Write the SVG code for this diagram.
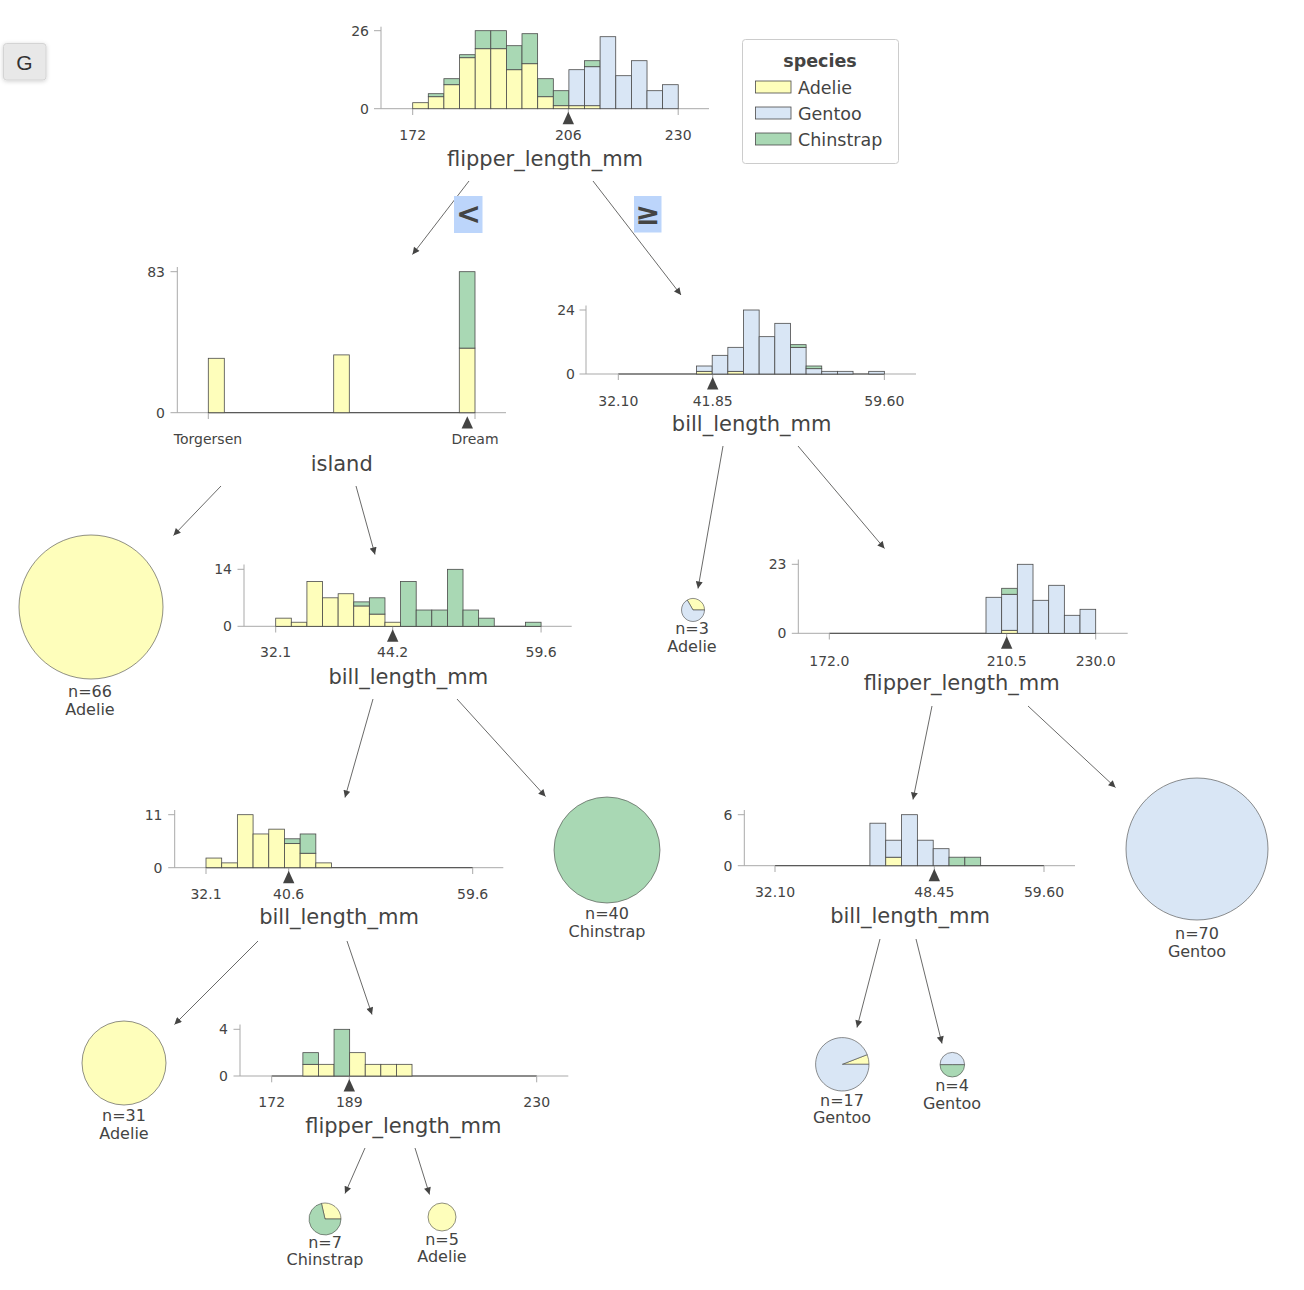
<svg xmlns="http://www.w3.org/2000/svg" width="1304" height="1290" viewBox="0 0 1304 1290">
<defs>
<marker id="ah" viewBox="0 0 10 10" refX="10" refY="5" markerWidth="9" markerHeight="7" markerUnits="userSpaceOnUse" orient="auto"><path d="M0,0 L10,5 L0,10 Z" fill="#444443"/></marker>
<filter id="sh" x="-30%" y="-30%" width="160%" height="160%"><feDropShadow dx="0" dy="1" stdDeviation="2" flood-color="#000" flood-opacity="0.18"/></filter>
</defs>
<style>
.ax{stroke:#a9a9a9;stroke-width:1;fill:none}
.base{stroke:#444443;stroke-width:1;fill:none}
.A{fill:#fefebb;stroke:#4a4a4a;stroke-width:0.8}
.G{fill:#d9e6f5;stroke:#4a4a4a;stroke-width:0.8}
.C{fill:#a9d8b4;stroke:#4a4a4a;stroke-width:0.8}
.pA{fill:#fefebb;stroke:#444443;stroke-width:0.6}
.pG{fill:#d9e6f5;stroke:#444443;stroke-width:0.6}
.pC{fill:#a9d8b4;stroke:#444443;stroke-width:0.6}
.tri{fill:#444443}
text{font-family:"DejaVu Sans","Liberation Sans",sans-serif;fill:#444443}
.tx{font-size:14px;text-anchor:middle}
.ty{font-size:14px;text-anchor:end}
.lab{font-size:21px;text-anchor:middle}
.leaf{font-size:16px;text-anchor:middle}
.lg{font-size:17.5px}
.edge{stroke:#444443;stroke-width:0.8;fill:none}
.hl{fill:#bcd5fb}
</style>
<rect width="1304" height="1290" fill="#ffffff"/>

<g id="gbutton">
<rect x="3.5" y="43.5" width="42.5" height="36.5" rx="3" fill="#e8e8e8" stroke="#d4d4d4" filter="url(#sh)"/>
<text x="24.5" y="69.5" style="font-family:'Liberation Sans',Arial,sans-serif;font-size:21px;fill:#333;text-anchor:middle">G</text>
</g>

<g id="legend">
<rect x="742.5" y="39.5" width="156" height="124" rx="3" fill="#fff" stroke="#cccccc"/>
<text x="820" y="67" class="lg" style="font-weight:bold;text-anchor:middle">species</text>
<rect x="755.5" y="81" width="35.5" height="12" class="A"/>
<text x="798" y="93.5" class="lg">Adelie</text>
<rect x="755.5" y="107" width="35.5" height="12" class="G"/>
<text x="798" y="119.5" class="lg">Gentoo</text>
<rect x="755.5" y="133" width="35.5" height="12" class="C"/>
<text x="798" y="145.5" class="lg">Chinstrap</text>
</g>

<!-- root: flipper_length_mm -->
<g id="node0">
<line class="ax" x1="381" y1="26.7" x2="381" y2="108.7"/>
<line class="ax" x1="374" y1="30.7" x2="381" y2="30.7"/>
<line class="ax" x1="374" y1="108.7" x2="709" y2="108.7"/>
<line class="ax" x1="412.7" y1="108.7" x2="412.7" y2="115"/>
<line class="ax" x1="568.3" y1="108.7" x2="568.3" y2="115"/>
<line class="ax" x1="678.2" y1="108.7" x2="678.2" y2="115"/>
<text class="ty" x="369" y="35.7">26</text>
<text class="ty" x="369" y="113.7">0</text>
<rect class="A" x="412.7" y="102.7" width="15.62" height="6"/>
<rect class="A" x="428.3" y="96.7" width="15.62" height="12"/>
<rect class="C" x="428.3" y="93.7" width="15.62" height="3"/>
<rect class="A" x="443.9" y="84.7" width="15.62" height="24"/>
<rect class="C" x="443.9" y="78.7" width="15.62" height="6"/>
<rect class="A" x="459.6" y="57.7" width="15.62" height="51"/>
<rect class="C" x="459.6" y="54.7" width="15.62" height="3"/>
<rect class="A" x="475.2" y="48.7" width="15.62" height="60"/>
<rect class="C" x="475.2" y="30.7" width="15.62" height="18"/>
<rect class="A" x="490.8" y="48.7" width="15.62" height="60"/>
<rect class="C" x="490.8" y="30.7" width="15.62" height="18"/>
<rect class="A" x="506.4" y="69.7" width="15.62" height="39"/>
<rect class="C" x="506.4" y="45.7" width="15.62" height="24"/>
<rect class="A" x="522" y="63.7" width="15.62" height="45"/>
<rect class="C" x="522" y="33.7" width="15.62" height="30"/>
<rect class="A" x="537.7" y="96.7" width="15.62" height="12"/>
<rect class="C" x="537.7" y="78.7" width="15.62" height="18"/>
<rect class="A" x="553.3" y="105.7" width="15.62" height="3"/>
<rect class="C" x="553.3" y="90.7" width="15.62" height="15"/>
<rect class="A" x="568.9" y="105.7" width="15.62" height="3"/>
<rect class="G" x="568.9" y="69.7" width="15.62" height="36"/>
<rect class="A" x="584.5" y="105.7" width="15.62" height="3"/>
<rect class="G" x="584.5" y="66.7" width="15.62" height="39"/>
<rect class="C" x="584.5" y="60.7" width="15.62" height="6"/>
<rect class="G" x="600.1" y="36.7" width="15.62" height="72"/>
<rect class="G" x="615.8" y="75.7" width="15.62" height="33"/>
<rect class="G" x="631.4" y="60.7" width="15.62" height="48"/>
<rect class="G" x="647" y="90.7" width="15.62" height="18"/>
<rect class="G" x="662.6" y="84.7" width="15.62" height="24"/>
<path class="tri" d="M568.3,111.7 L574,124.3 L562.6,124.3 Z"/>
<text class="tx" x="412.7" y="140">172</text>
<text class="tx" x="568.3" y="140">206</text>
<text class="tx" x="678.2" y="140">230</text>
<text class="lab" x="545" y="166">flipper_length_mm</text>
</g>

<!-- island -->
<g id="node1">
<line class="ax" x1="177.3" y1="267" x2="177.3" y2="412.7"/>
<line class="ax" x1="170.5" y1="271.7" x2="177.3" y2="271.7"/>
<line class="ax" x1="170.5" y1="412.7" x2="506" y2="412.7"/>
<line class="base" x1="208.3" y1="412.7" x2="475" y2="412.7"/>
<line class="ax" x1="208.3" y1="412.7" x2="208.3" y2="419"/>
<line class="ax" x1="475" y1="412.7" x2="475" y2="419"/>
<text class="ty" x="165" y="276.7">83</text>
<text class="ty" x="165" y="417.7">0</text>
<rect class="A" x="208.3" y="358.3" width="16" height="54.4"/>
<rect class="A" x="333.7" y="354.9" width="15.6" height="57.8"/>
<rect class="A" x="459.3" y="348.1" width="15.7" height="64.6"/>
<rect class="C" x="459.3" y="271.7" width="15.7" height="76.4"/>
<path class="tri" d="M467.3,416.2 L473,428.6 L461.6,428.6 Z"/>
<text class="tx" x="208" y="443.5">Torgersen</text>
<text class="tx" x="475" y="443.5">Dream</text>
<text class="lab" x="341.7" y="471">island</text>
</g>

<!-- right: bill_length_mm -->
<g id="node2">
<line class="ax" x1="586" y1="305.5" x2="586" y2="374"/>
<line class="ax" x1="579.5" y1="310" x2="586" y2="310"/>
<line class="ax" x1="579.5" y1="374" x2="916" y2="374"/>
<line class="base" x1="618.3" y1="374" x2="884.35" y2="374"/>
<line class="ax" x1="618.3" y1="374" x2="618.3" y2="380"/>
<line class="ax" x1="712.7" y1="374" x2="712.7" y2="380"/>
<line class="ax" x1="884.35" y1="374" x2="884.35" y2="380"/>
<text class="ty" x="575" y="315">24</text>
<text class="ty" x="575" y="379">0</text>
<rect class="A" x="696.55" y="371.33" width="15.65" height="2.67"/>
<rect class="G" x="696.55" y="366" width="15.65" height="5.33"/>
<rect class="G" x="712.2" y="355.33" width="15.65" height="18.67"/>
<rect class="A" x="727.85" y="371.33" width="15.65" height="2.67"/>
<rect class="G" x="727.85" y="347.33" width="15.65" height="24"/>
<rect class="G" x="743.5" y="310" width="15.65" height="64"/>
<rect class="G" x="759.15" y="336.67" width="15.65" height="37.33"/>
<rect class="G" x="774.8" y="323.33" width="15.65" height="50.67"/>
<rect class="G" x="790.45" y="347.33" width="15.65" height="26.67"/>
<rect class="C" x="790.45" y="344.67" width="15.65" height="2.67"/>
<rect class="G" x="806.1" y="368.67" width="15.65" height="5.33"/>
<rect class="C" x="806.1" y="366" width="15.65" height="2.67"/>
<rect class="G" x="821.75" y="371.33" width="15.65" height="2.67"/>
<rect class="G" x="837.4" y="371.33" width="15.65" height="2.67"/>
<rect class="G" x="868.7" y="371.33" width="15.65" height="2.67"/>
<path class="tri" d="M712.7,377 L718.4,389.5 L707,389.5 Z"/>
<text class="tx" x="618.3" y="406">32.10</text>
<text class="tx" x="712.7" y="406">41.85</text>
<text class="tx" x="884.35" y="406">59.60</text>
<text class="lab" x="751.7" y="431">bill_length_mm</text>
</g>

<!-- middle: bill_length_mm -->
<g id="node3">
<line class="ax" x1="244" y1="564.5" x2="244" y2="626.3"/>
<line class="ax" x1="237.5" y1="569.3" x2="244" y2="569.3"/>
<line class="ax" x1="237.5" y1="626.3" x2="571.7" y2="626.3"/>
<line class="base" x1="275.7" y1="626.3" x2="541.07" y2="626.3"/>
<line class="ax" x1="275.7" y1="626.3" x2="275.7" y2="632.5"/>
<line class="ax" x1="392.7" y1="626.3" x2="392.7" y2="632.5"/>
<line class="ax" x1="541.07" y1="626.3" x2="541.07" y2="632.5"/>
<text class="ty" x="232" y="574.3">14</text>
<text class="ty" x="232" y="631.3">0</text>
<rect class="A" x="275.7" y="618.16" width="15.61" height="8.14"/>
<rect class="A" x="291.31" y="622.23" width="15.61" height="4.07"/>
<rect class="A" x="306.92" y="581.53" width="15.61" height="44.77"/>
<rect class="A" x="322.53" y="597.81" width="15.61" height="28.49"/>
<rect class="A" x="338.14" y="593.74" width="15.61" height="32.56"/>
<rect class="A" x="353.75" y="605.95" width="15.61" height="20.35"/>
<rect class="C" x="353.75" y="601.88" width="15.61" height="4.07"/>
<rect class="A" x="369.36" y="614.09" width="15.61" height="12.21"/>
<rect class="C" x="369.36" y="597.81" width="15.61" height="16.28"/>
<rect class="A" x="384.97" y="622.23" width="15.61" height="4.07"/>
<rect class="C" x="400.58" y="581.53" width="15.61" height="44.77"/>
<rect class="C" x="416.19" y="610.02" width="15.61" height="16.28"/>
<rect class="C" x="431.8" y="610.02" width="15.61" height="16.28"/>
<rect class="C" x="447.41" y="569.32" width="15.61" height="56.98"/>
<rect class="C" x="463.02" y="610.02" width="15.61" height="16.28"/>
<rect class="C" x="478.63" y="618.16" width="15.61" height="8.14"/>
<rect class="C" x="525.46" y="622.23" width="15.61" height="4.07"/>
<path class="tri" d="M392.7,629.3 L398.4,641.8 L387,641.8 Z"/>
<text class="tx" x="275.7" y="657">32.1</text>
<text class="tx" x="392.7" y="657">44.2</text>
<text class="tx" x="541.07" y="657">59.6</text>
<text class="lab" x="408.3" y="684">bill_length_mm</text>
</g>

<!-- right flipper_length_mm -->
<g id="node4">
<line class="ax" x1="798.3" y1="559.5" x2="798.3" y2="633.3"/>
<line class="ax" x1="791.8" y1="564.3" x2="798.3" y2="564.3"/>
<line class="ax" x1="791.8" y1="633.3" x2="1127.7" y2="633.3"/>
<line class="base" x1="829.3" y1="633.3" x2="1095.69" y2="633.3"/>
<line class="ax" x1="829.3" y1="633.3" x2="829.3" y2="639.5"/>
<line class="ax" x1="1006.7" y1="633.3" x2="1006.7" y2="639.5"/>
<line class="ax" x1="1095.69" y1="633.3" x2="1095.69" y2="639.5"/>
<text class="ty" x="786.5" y="569.3">23</text>
<text class="ty" x="786.5" y="638.3">0</text>
<rect class="G" x="986" y="597.3" width="15.67" height="36"/>
<rect class="A" x="1001.67" y="630.3" width="15.67" height="3"/>
<rect class="G" x="1001.67" y="594.3" width="15.67" height="36"/>
<rect class="C" x="1001.67" y="588.3" width="15.67" height="6"/>
<rect class="G" x="1017.34" y="564.3" width="15.67" height="69"/>
<rect class="G" x="1033.01" y="600.3" width="15.67" height="33"/>
<rect class="G" x="1048.68" y="585.3" width="15.67" height="48"/>
<rect class="G" x="1064.35" y="615.3" width="15.67" height="18"/>
<rect class="G" x="1080.02" y="609.3" width="15.67" height="24"/>
<path class="tri" d="M1006.7,636.3 L1012.4,648.8 L1001,648.8 Z"/>
<text class="tx" x="829.3" y="666">172.0</text>
<text class="tx" x="1006.7" y="666">210.5</text>
<text class="tx" x="1095.69" y="666">230.0</text>
<text class="lab" x="961.7" y="690">flipper_length_mm</text>
</g>

<!-- bottom-left bill_length_mm -->
<g id="node5">
<line class="ax" x1="174.7" y1="810" x2="174.7" y2="867.7"/>
<line class="ax" x1="168.2" y1="814.7" x2="174.7" y2="814.7"/>
<line class="ax" x1="168.2" y1="867.7" x2="503.3" y2="867.7"/>
<line class="base" x1="206" y1="867.7" x2="472.7" y2="867.7"/>
<line class="ax" x1="206" y1="867.7" x2="206" y2="874"/>
<line class="ax" x1="288.7" y1="867.7" x2="288.7" y2="874"/>
<line class="ax" x1="472.7" y1="867.7" x2="472.7" y2="874"/>
<text class="ty" x="162.5" y="819.7">11</text>
<text class="ty" x="162.5" y="872.7">0</text>
<rect class="A" x="206" y="858.06" width="15.69" height="9.64"/>
<rect class="A" x="221.69" y="862.88" width="15.69" height="4.82"/>
<rect class="A" x="237.38" y="814.7" width="15.69" height="53"/>
<rect class="A" x="253.07" y="833.97" width="15.69" height="33.73"/>
<rect class="A" x="268.76" y="829.16" width="15.69" height="38.54"/>
<rect class="A" x="284.45" y="843.61" width="15.69" height="24.09"/>
<rect class="C" x="284.45" y="838.79" width="15.69" height="4.82"/>
<rect class="A" x="300.14" y="853.25" width="15.69" height="14.45"/>
<rect class="C" x="300.14" y="833.97" width="15.69" height="19.27"/>
<rect class="A" x="315.83" y="862.88" width="15.69" height="4.82"/>
<path class="tri" d="M288.7,870.7 L294.4,883.2 L283,883.2 Z"/>
<text class="tx" x="206" y="899">32.1</text>
<text class="tx" x="288.7" y="899">40.6</text>
<text class="tx" x="472.7" y="899">59.6</text>
<text class="lab" x="339" y="924">bill_length_mm</text>
</g>

<!-- right bottom bill_length_mm -->
<g id="node6">
<line class="ax" x1="744.3" y1="810" x2="744.3" y2="865.7"/>
<line class="ax" x1="737.8" y1="814.7" x2="744.3" y2="814.7"/>
<line class="ax" x1="737.8" y1="865.7" x2="1075" y2="865.7"/>
<line class="base" x1="775" y1="865.7" x2="1044" y2="865.7"/>
<line class="ax" x1="775" y1="865.7" x2="775" y2="872"/>
<line class="ax" x1="934.3" y1="865.7" x2="934.3" y2="872"/>
<line class="ax" x1="1044" y1="865.7" x2="1044" y2="872"/>
<text class="ty" x="732.5" y="819.7">6</text>
<text class="ty" x="732.5" y="870.7">0</text>
<rect class="G" x="869.92" y="823.2" width="15.82" height="42.5"/>
<rect class="A" x="885.74" y="857.2" width="15.82" height="8.5"/>
<rect class="G" x="885.74" y="840.2" width="15.82" height="17"/>
<rect class="G" x="901.56" y="814.7" width="15.82" height="51"/>
<rect class="G" x="917.38" y="840.2" width="15.82" height="25.5"/>
<rect class="G" x="933.2" y="848.7" width="15.82" height="17"/>
<rect class="C" x="949.02" y="857.2" width="15.82" height="8.5"/>
<rect class="C" x="964.84" y="857.2" width="15.82" height="8.5"/>
<path class="tri" d="M934.3,868.7 L940,881.2 L928.6,881.2 Z"/>
<text class="tx" x="775" y="897">32.10</text>
<text class="tx" x="934.3" y="897">48.45</text>
<text class="tx" x="1044" y="897">59.60</text>
<text class="lab" x="910" y="923">bill_length_mm</text>
</g>

<!-- bottom flipper_length_mm -->
<g id="node7">
<line class="ax" x1="240" y1="1024.5" x2="240" y2="1076"/>
<line class="ax" x1="233.5" y1="1029.3" x2="240" y2="1029.3"/>
<line class="ax" x1="233.5" y1="1076" x2="568.3" y2="1076"/>
<line class="base" x1="271.7" y1="1076" x2="536.7" y2="1076"/>
<line class="ax" x1="271.7" y1="1076" x2="271.7" y2="1082.3"/>
<line class="ax" x1="349.3" y1="1076" x2="349.3" y2="1082.3"/>
<line class="ax" x1="536.7" y1="1076" x2="536.7" y2="1082.3"/>
<text class="ty" x="228" y="1034.3">4</text>
<text class="ty" x="228" y="1081">0</text>
<rect class="A" x="302.88" y="1064.33" width="15.59" height="11.67"/>
<rect class="C" x="302.88" y="1052.66" width="15.59" height="11.67"/>
<rect class="A" x="318.47" y="1064.33" width="15.59" height="11.67"/>
<rect class="C" x="334.06" y="1029.32" width="15.59" height="46.68"/>
<rect class="A" x="349.65" y="1052.66" width="15.59" height="23.34"/>
<rect class="A" x="365.24" y="1064.33" width="15.59" height="11.67"/>
<rect class="A" x="380.83" y="1064.33" width="15.59" height="11.67"/>
<rect class="A" x="396.42" y="1064.33" width="15.59" height="11.67"/>
<path class="tri" d="M349.3,1079 L355,1091.5 L343.6,1091.5 Z"/>
<text class="tx" x="271.7" y="1107">172</text>
<text class="tx" x="349.3" y="1107">189</text>
<text class="tx" x="536.7" y="1107">230</text>
<text class="lab" x="403.3" y="1133">flipper_length_mm</text>
</g>

<!-- leaves -->
<g id="leaf66">
<circle class="pA" cx="91" cy="607" r="72"/>
<text class="leaf" x="90" y="697">n=66</text>
<text class="leaf" x="90" y="715">Adelie</text>
</g>
<g id="leaf3">
<path class="pA" d="M693,610 L704.5,610 A11.5,11.5 0 0,0 687.25,600.04 Z"/>
<path class="pG" d="M693,610 L687.25,600.04 A11.5,11.5 0 1,0 704.5,610 Z"/>
<text class="leaf" x="692" y="634">n=3</text>
<text class="leaf" x="692" y="652">Adelie</text>
</g>
<g id="leaf40">
<circle class="pC" cx="607" cy="850" r="53"/>
<text class="leaf" x="607" y="919">n=40</text>
<text class="leaf" x="607" y="937">Chinstrap</text>
</g>
<g id="leaf70">
<circle class="pG" cx="1197" cy="849" r="71"/>
<text class="leaf" x="1197" y="939">n=70</text>
<text class="leaf" x="1197" y="957">Gentoo</text>
</g>
<g id="leaf31">
<circle class="pA" cx="124" cy="1063" r="42"/>
<text class="leaf" x="124" y="1121">n=31</text>
<text class="leaf" x="124" y="1139">Adelie</text>
</g>
<g id="leaf17">
<path class="pA" d="M842.3,1064.3 L869,1064.3 A26.7,26.7 0 0,0 867.2,1054.65 Z"/>
<path class="pG" d="M842.3,1064.3 L867.2,1054.65 A26.7,26.7 0 1,0 869,1064.3 Z"/>
<text class="leaf" x="842" y="1106">n=17</text>
<text class="leaf" x="842" y="1123">Gentoo</text>
</g>
<g id="leaf4">
<path class="pG" d="M952.3,1064.7 L964.6,1064.7 A12.3,12.3 0 0,0 940,1064.7 Z"/>
<path class="pC" d="M952.3,1064.7 L940,1064.7 A12.3,12.3 0 0,0 964.6,1064.7 Z"/>
<text class="leaf" x="952" y="1091">n=4</text>
<text class="leaf" x="952" y="1109">Gentoo</text>
</g>
<g id="leaf7">
<path class="pA" d="M325,1219 L341,1219 A16,16 0 0,0 321.44,1203.4 Z"/>
<path class="pC" d="M325,1219 L321.44,1203.4 A16,16 0 1,0 341,1219 Z"/>
<text class="leaf" x="325" y="1248">n=7</text>
<text class="leaf" x="325" y="1265">Chinstrap</text>
</g>
<g id="leaf5">
<circle class="pA" cx="442" cy="1217" r="14"/>
<text class="leaf" x="442" y="1245">n=5</text>
<text class="leaf" x="442" y="1262">Adelie</text>
</g>

<!-- connectors -->
<g id="edges">
<line class="edge" x1="469" y1="181" x2="412.5" y2="254.5" marker-end="url(#ah)"/>
<line class="edge" x1="593" y1="181" x2="681" y2="295" marker-end="url(#ah)"/>
<line class="edge" x1="221" y1="486" x2="173.5" y2="535.5" marker-end="url(#ah)"/>
<line class="edge" x1="356" y1="486" x2="375" y2="554.5" marker-end="url(#ah)"/>
<line class="edge" x1="723" y1="446" x2="698" y2="588.5" marker-end="url(#ah)"/>
<line class="edge" x1="798" y1="446" x2="884.5" y2="548.5" marker-end="url(#ah)"/>
<line class="edge" x1="373" y1="699" x2="345" y2="797.5" marker-end="url(#ah)"/>
<line class="edge" x1="457" y1="699" x2="545.5" y2="796.5" marker-end="url(#ah)"/>
<line class="edge" x1="932" y1="706" x2="913" y2="799.5" marker-end="url(#ah)"/>
<line class="edge" x1="1028" y1="706" x2="1115.5" y2="787.5" marker-end="url(#ah)"/>
<line class="edge" x1="258" y1="941" x2="174.5" y2="1024.5" marker-end="url(#ah)"/>
<line class="edge" x1="347" y1="941" x2="372" y2="1014.5" marker-end="url(#ah)"/>
<line class="edge" x1="880" y1="939" x2="857" y2="1027.5" marker-end="url(#ah)"/>
<line class="edge" x1="916" y1="939" x2="942" y2="1043.5" marker-end="url(#ah)"/>
<line class="edge" x1="365" y1="1148" x2="345" y2="1193.5" marker-end="url(#ah)"/>
<line class="edge" x1="415" y1="1148" x2="429.5" y2="1194.5" marker-end="url(#ah)"/>
<rect class="hl" x="454" y="196" width="28.5" height="37"/>
<text x="468.5" y="224" style="font-size:30px;font-weight:bold;text-anchor:middle">&lt;</text>
<rect class="hl" x="634" y="196" width="27.5" height="36.5"/>
<text x="647.7" y="224" style="font-size:30px;font-weight:bold;text-anchor:middle">≥</text>
</g>
</svg>
